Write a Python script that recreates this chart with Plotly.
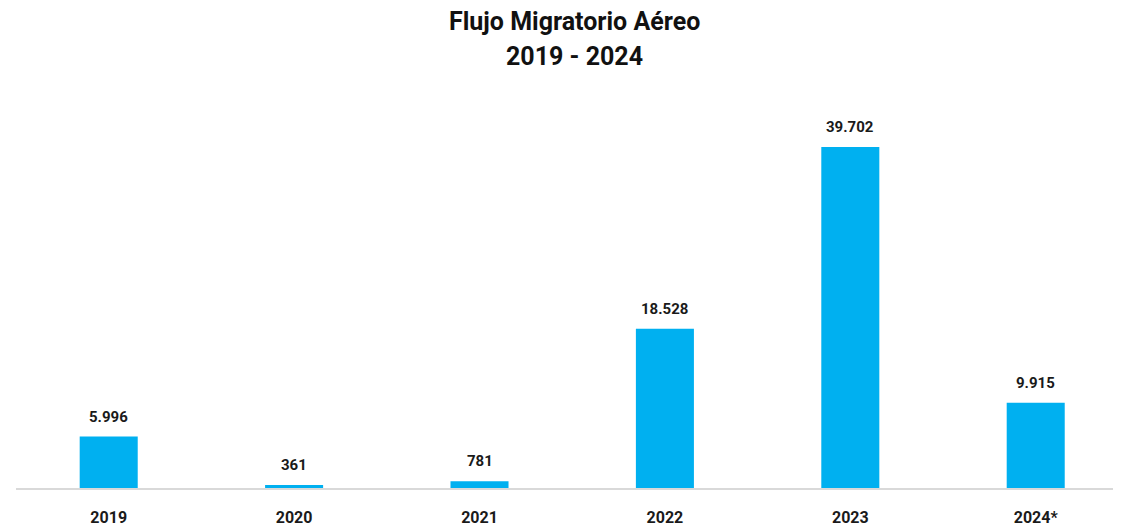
import plotly.graph_objects as go

anios = ["2019", "2020", "2021", "2022", "2023", "2024*"]
pasajeros = [5996, 361, 781, 18528, 39702, 9915]

color_barra = "#00B0F0"
fuente = "Roboto"

fig = go.Figure()
fig.add_trace(go.Bar(
    x=anios, y=pasajeros,
    marker=dict(color=color_barra, line=dict(width=0)),
    cliponaxis=False, width=0.313
))

# etiquetas de valor sobre cada barra (x por indice de categoria)
for i, v in enumerate(pasajeros):
    fig.add_annotation(x=i, y=v, text=f"{v:,}".replace(",", "."),
                       showarrow=False, yanchor="bottom", yshift=9,
                       font=dict(family=fuente, size=15, color="#1a1a1a", weight="bold"))

# titulo en dos lineas
fig.add_annotation(text="Flujo Migratorio Aéreo", xref="paper", yref="paper",
                   x=0.505, y=1.2005, xanchor="center", yanchor="middle",
                   showarrow=False,
                   font=dict(family=fuente, size=25, color="#111111", weight="bold"))
fig.add_annotation(text="2019 - 2024", xref="paper", yref="paper",
                   x=0.505, y=1.108, xanchor="center", yanchor="middle",
                   showarrow=False,
                   font=dict(family=fuente, size=25, color="#111111", weight="bold"))

fig.update_layout(
    width=1113, height=519,
    paper_bgcolor="white", plot_bgcolor="white",
    margin=dict(l=8, r=0, t=91, b=37),
    xaxis=dict(
        type="category", range=[-0.5, 5.46],
        showline=True, linecolor="#d9d9d9", linewidth=1.5,
        showgrid=False, ticks="", ticklabelstandoff=14,
        tickfont=dict(family=fuente, size=16, color="#1a1a1a", weight="bold")
    ),
    yaxis=dict(range=[0, 45290], visible=False, showgrid=False, zeroline=False),
    showlegend=False
)

fig.write_html("out.html")
